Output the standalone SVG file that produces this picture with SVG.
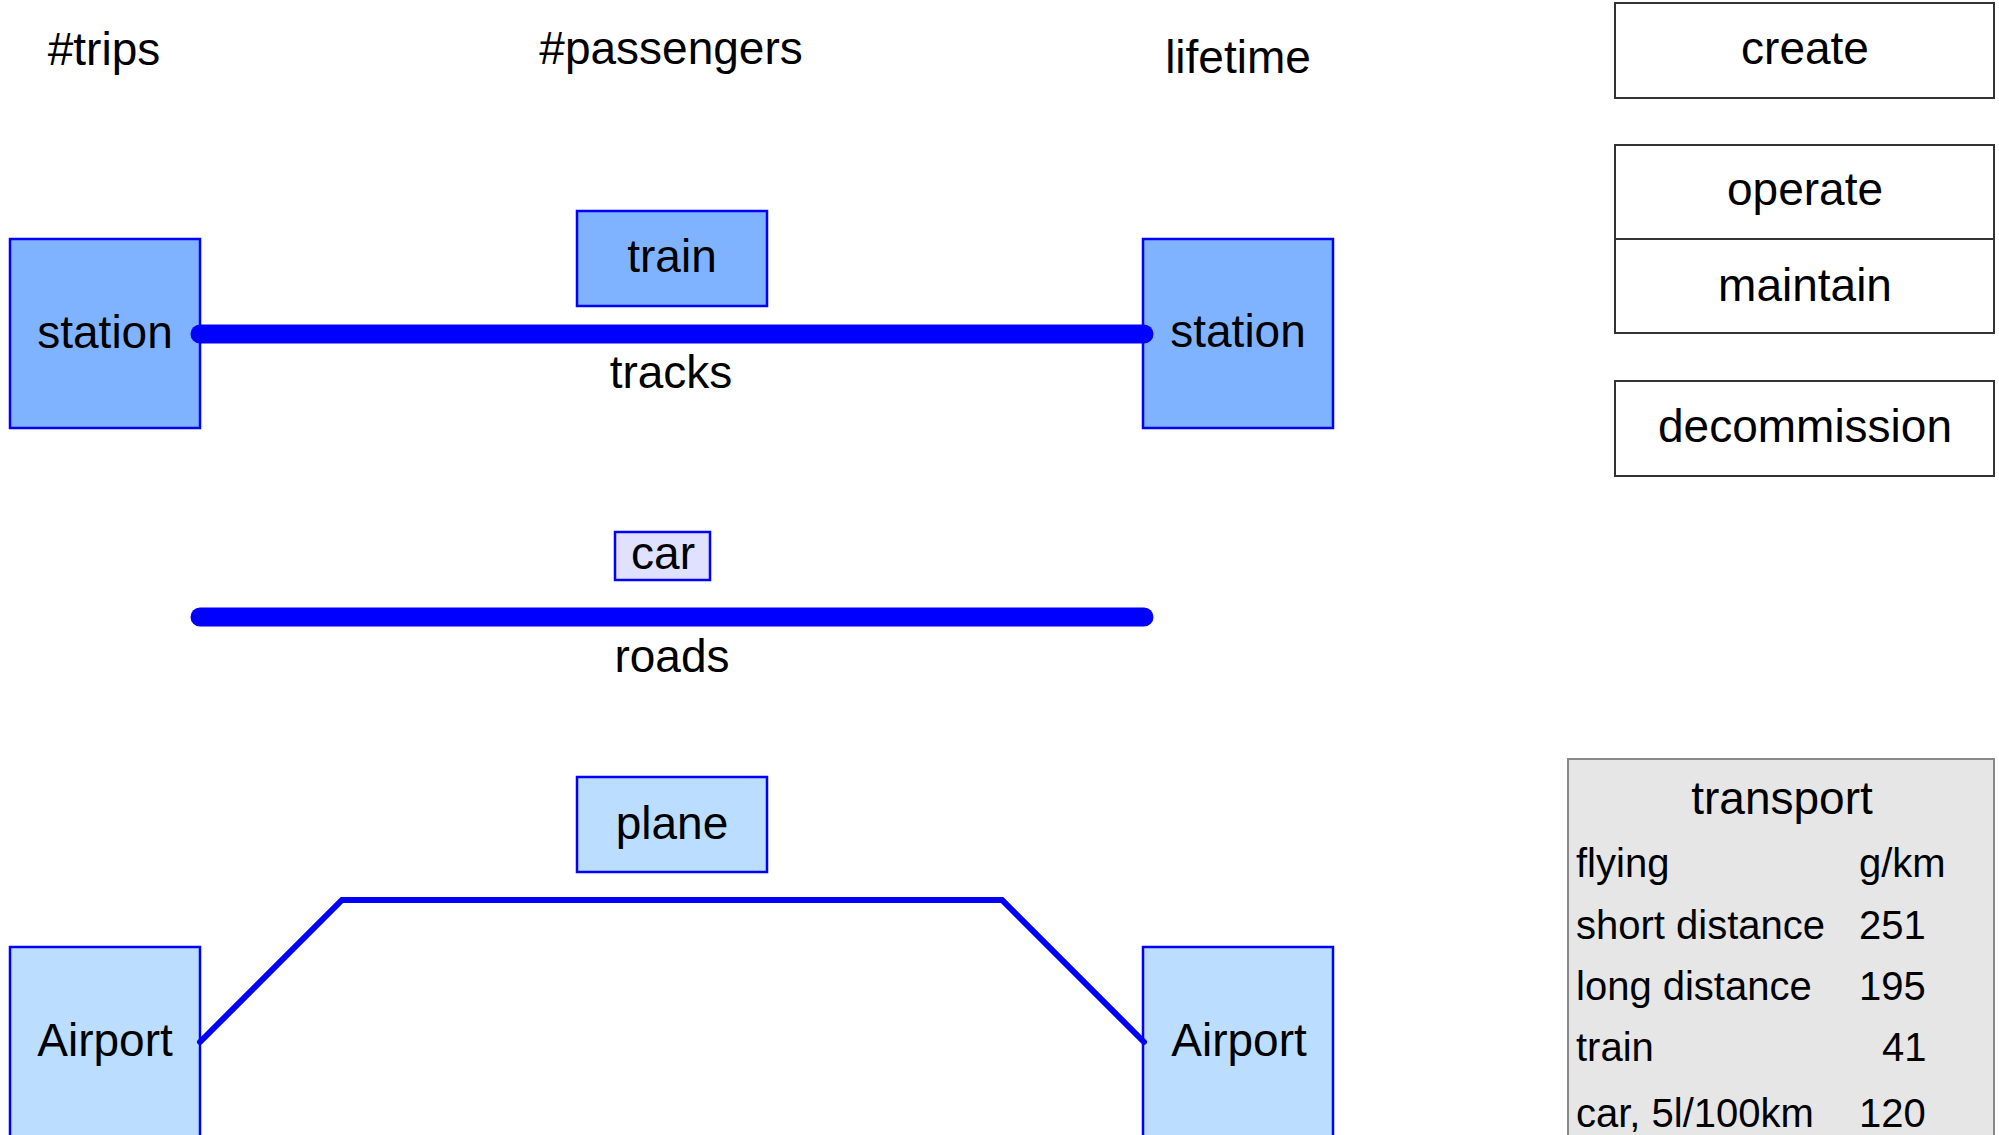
<svg xmlns="http://www.w3.org/2000/svg" width="1999" height="1135" viewBox="0 0 1999 1135">
<style>
text{font-family:"Liberation Sans",Arial,sans-serif;font-size:46px;fill:#000}
.m{text-anchor:middle}
.t{font-size:40px}
.st{fill:#80b3ff;stroke:#0000ff;stroke-width:2.5}
.ap{fill:#bbddff;stroke:#0000ff;stroke-width:2.5}
.cr{fill:#e0e0ff;stroke:#0000ff;stroke-width:2.5}
.ph{fill:#fff;stroke:#333;stroke-width:2}
.way{fill:none;stroke:#0000ff;stroke-linecap:round;stroke-width:19}
.air{fill:none;stroke:#0000ff;stroke-linecap:round;stroke-linejoin:miter;stroke-width:6}
</style>
<rect width="1999" height="1135" fill="#fff"/>
<g id="headers">
<text x="104" y="65" class="m">#trips</text>
<text x="671" y="64" class="m">#passengers</text>
<text x="1238" y="73" class="m">lifetime</text>
</g>
<g id="station-left"><rect class="st" x="10" y="239" width="190" height="189"/><text x="105" y="348" class="m">station</text></g>
<g id="station-right"><rect class="st" x="1143" y="239" width="190" height="189"/><text x="1238" y="347" class="m">station</text></g>
<g id="train"><rect class="st" x="577" y="211" width="190" height="95"/><text x="672" y="272" class="m">train</text></g>
<g id="car"><rect class="cr" x="615" y="532" width="95" height="48"/><text x="663" y="569" class="m">car</text></g>
<g id="plane"><rect class="ap" x="577" y="777" width="190" height="95"/><text x="672" y="839" class="m">plane</text></g>
<g id="airport-left"><rect class="ap" x="10" y="947" width="190" height="200"/><text x="105" y="1056" class="m">Airport</text></g>
<g id="airport-right"><rect class="ap" x="1143" y="947" width="190" height="200"/><text x="1239" y="1056" class="m">Airport</text></g>
<g id="create"><rect class="ph" x="1615" y="3" width="379" height="95"/><text x="1805" y="64" class="m">create</text></g>
<g id="operate"><rect class="ph" x="1615" y="145" width="379" height="94"/><text x="1805" y="205" class="m">operate</text></g>
<g id="maintain"><rect class="ph" x="1615" y="239" width="379" height="94"/><text x="1805" y="301" class="m">maintain</text></g>
<g id="decommission"><rect class="ph" x="1615" y="381" width="379" height="95"/><text x="1805" y="442" class="m">decommission</text></g>
<g id="transport">
<rect x="1568" y="759" width="426" height="400" fill="#e6e6e6" stroke="#888" stroke-width="2"/>
<text x="1782" y="814" class="m">transport</text>
<text x="1576" y="877" class="t">flying</text><text x="1859" y="877" class="t">g/km</text>
<text x="1576" y="939" class="t">short distance</text><text x="1859" y="939" class="t">251</text>
<text x="1576" y="1000" class="t">long distance</text><text x="1859" y="1000" class="t">195</text>
<text x="1576" y="1061" class="t">train</text><text x="1882" y="1061" class="t">41</text>
<text x="1576" y="1127" class="t">car, 5l/100km</text><text x="1859" y="1127" class="t">120</text>
</g>
<g id="connectors">
<line class="way" x1="200" y1="334" x2="1144" y2="334"/>
<line class="way" x1="200" y1="617" x2="1144" y2="617"/>
<polyline class="air" points="200,1042 342,900 1002,900 1144,1042"/>
<text x="671" y="388" class="m">tracks</text>
<text x="672" y="672" class="m">roads</text>
</g>
</svg>
